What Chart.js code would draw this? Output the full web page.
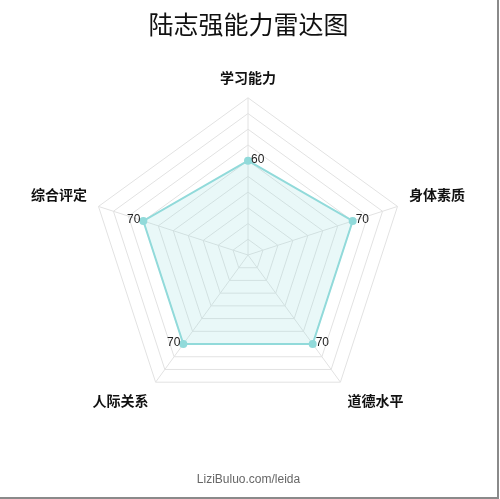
<!DOCTYPE html>
<html><head><meta charset="utf-8">
<script src="https://cdn.jsdelivr.net/npm/chart.js@4"></script>
<style>
html,body{margin:0;padding:0;background:#fff;}
#wrap{position:absolute;left:0;top:0;width:497px;height:497px;border-right:2px solid #8a8a8a;border-bottom:2px solid #8a8a8a;}
</style></head><body>
<div id="wrap"><canvas id="c" width="497" height="497"></canvas></div>
<script>
const categories = ['学习能力','身体素质','道德水平','人际关系','综合评定'];
const values = [60, 70, 70, 70, 70];
const titleText = '陆志强能力雷达图';
const footerText = 'LiziBuluo.com/leida';

const valueLabels = {
  id: 'valueLabels',
  afterDatasetsDraw(chart) {
    const ctx = chart.ctx;
    const meta = chart.getDatasetMeta(0);
    const cx = chart.scales.r.xCenter;
    ctx.save();
    ctx.font = '12px "Liberation Sans", Arial, sans-serif';
    ctx.fillStyle = '#222';
    ctx.textBaseline = 'middle';
    meta.data.forEach((pt, i) => {
      if (pt.x >= cx - 1) { ctx.textAlign = 'left'; ctx.fillText(String(values[i]), pt.x + 3, pt.y - 1); }
      else { ctx.textAlign = 'right'; ctx.fillText(String(values[i]), pt.x - 3, pt.y - 1); }
    });
    ctx.restore();
  }
};

new Chart(document.getElementById('c'), {
  type: 'radar',
  data: {
    labels: categories,
    datasets: [{
      data: values,
      borderColor: 'rgb(145,218,218)',
      backgroundColor: 'rgba(145,218,218,0.2)',
      borderWidth: 2,
      pointRadius: 3,
      pointBackgroundColor: 'rgb(145,218,218)',
      pointBorderColor: 'rgb(145,218,218)',
      fill: true
    }]
  },
  options: {
    responsive: false,
    animation: false,
    layout: { padding: { left: 0, right: 0, top: 0, bottom: 0 } },
    plugins: {
      legend: { display: false },
      tooltip: { enabled: false },
      title: { display: true, text: titleText, color: '#111',
        font: { size: 25, weight: 'normal', family: '"Noto Sans CJK SC", sans-serif' },
        padding: { top: 9, bottom: 16 } },
      subtitle: { display: true, text: footerText, position: 'bottom', color: '#666',
        font: { size: 12, family: '"Liberation Sans", Arial, sans-serif' },
        padding: { top: 44, bottom: 10 } }
    },
    scales: {
      r: {
        min: 0, max: 100,
        ticks: { display: false, stepSize: 10 },
        grid: { color: '#e2e2e2', lineWidth: 1 },
        angleLines: { color: '#e2e2e2' },
        pointLabels: { color: '#111', padding: 12,
          font: { size: 14, weight: 'bold', family: '"Noto Sans CJK SC", sans-serif' } }
      }
    }
  },
  plugins: [valueLabels]
});
</script>
</body></html>
